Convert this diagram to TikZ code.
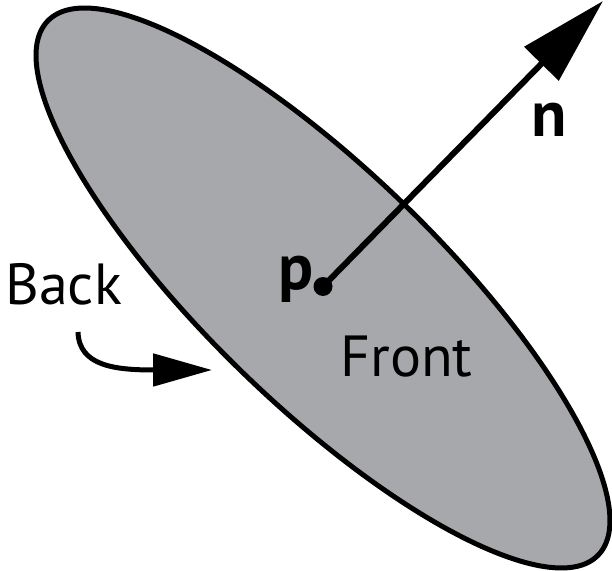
\documentclass[tikz,border=0pt]{standalone}
\usepackage{fontspec}
\setmainfont{PT Sans}
\usetikzlibrary{arrows.meta}
\definecolor{discgray}{RGB}{167,168,172}

\begin{document}
\begin{tikzpicture}[
    x=0.02cm, y=0.02cm,
    every node/.style={font=\fontsize{33}{39}\selectfont, inner sep=0pt},
    boldlabel/.style={font=\fontsize{37}{43}\selectfont\bfseries},
    disc/.style={draw=black, fill=discgray, line width=0.1cm},
    normalarrow/.style={-{Triangle[length=1.76cm, width=0.94cm]}, line width=0.12cm},
    sidearrow/.style={-{Triangle[length=1.18cm, width=0.64cm]}, line width=0.1cm}
]
\useasboundingbox (0,0) rectangle (612,571);

% Disc
\coordinate (c) at (323,283);
\draw[disc, rotate around={-44.15:(c)}] (c) ellipse [x radius=7.672cm, y radius=2.332cm];

% Normal at p
\coordinate (p) at (323,284.5);
\coordinate (ntip) at (603,570);
\draw[normalarrow] (p) -- (ntip);
\fill (p) circle [radius=0.19cm];

% Labels
\node[boldlabel, anchor=base west] (plabel) at (278,281) {p};
\node[boldlabel, anchor=base west] (nlabel) at (531,434) {n};
\node[anchor=base west] (front) at (340,194) {Front};
\node[anchor=base west] (back) at (5,266) {Back};

% Back side arrow
\coordinate (bstart) at (78,239);
\coordinate (bend) at (212,201);
\draw[sidearrow] (bstart) .. controls (79,205) and (115,201) .. (bend);

\end{tikzpicture}
\end{document}
